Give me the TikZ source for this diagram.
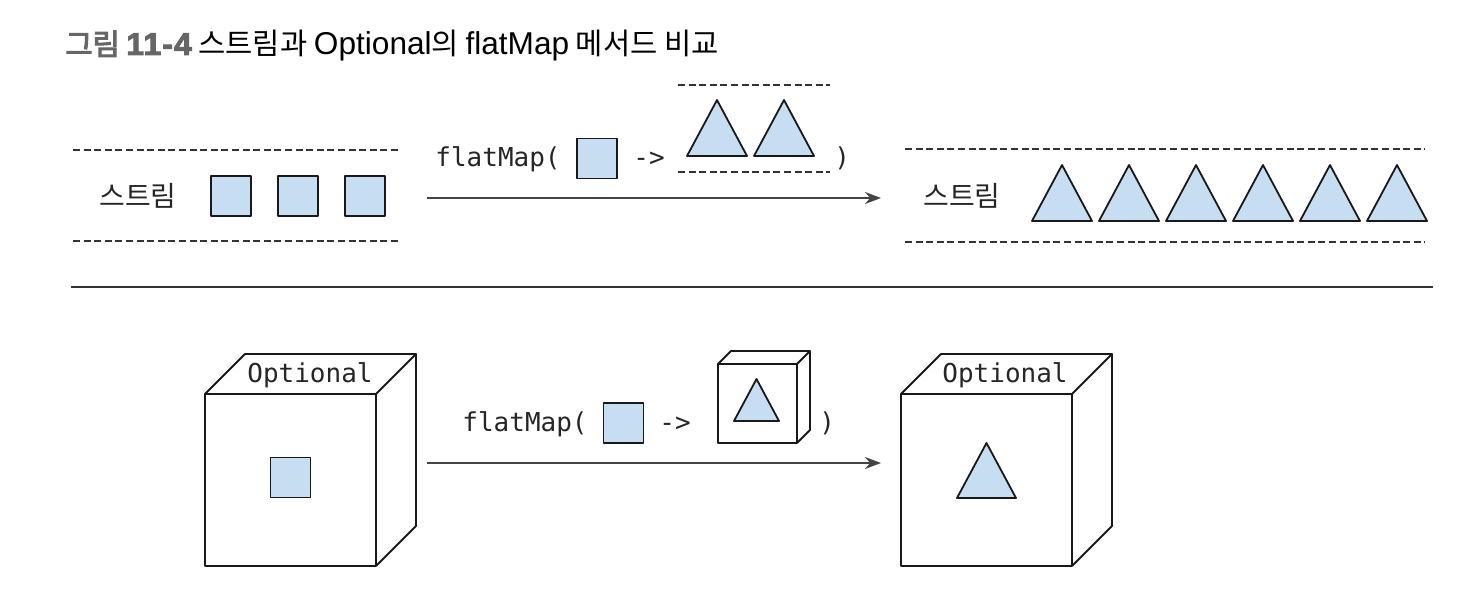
\documentclass[tikz,border=0pt]{standalone}
\usepackage{fontspec}
\setmainfont{Noto Sans CJK KR}
\newfontfamily\monofam{DejaVu Sans Mono}
\newfontfamily\krfam{Noto Sans CJK KR}
\newfontfamily\latfam{Liberation Sans}
\newfontfamily\latbfam{Liberation Sans}[LetterSpace=4]
\usetikzlibrary{arrows.meta}
\definecolor{fillblue}{HTML}{C6DDF2}
\definecolor{arrowgray}{HTML}{444444}
\definecolor{titlegray}{HTML}{666666}
\newcommand\mytri[4]{% cx, base y, width, height
  \path[bluefill] ({#1-#3/2},#2) -- ({#1},{#2-#4}) -- ({#1+#3/2},#2) -- cycle;}
\newcommand\mycube[5]{% x1,y1,x2,y2 of front face, depth
  \draw[shapeline] (#1,#2) rectangle (#3,#4);
  \draw[shapeline] (#1,#2) -- ({#1+#5},{#2-#5}) -- ({#3+#5},{#2-#5}) -- (#3,#2);
  \draw[shapeline] ({#3+#5},{#2-#5}) -- ({#3+#5},{#4-#5}) -- (#3,#4);}
\newcommand\lat[1]{{\latfam\fontsize{15.8pt}{17pt}\selectfont #1}}
\newcommand\latb[1]{{\latbfam\bfseries\fontsize{15.8pt}{17pt}\selectfont #1}}
\newcommand\heavy[1]{\special{pdf:literal direct 2 Tr 0.5 w}#1\special{pdf:literal direct 0 Tr}}
\begin{document}
\begin{tikzpicture}[x=0.5pt,y=-0.5pt,
  shapeline/.style={draw=black!90, line width=0.9pt, line join=round},
  bluefill/.style={shapeline, fill=fillblue},
  dashline/.style={draw=black!80, line width=0.75pt, dash pattern=on 3.5pt off 1.8pt},
  flow/.style={draw=arrowgray, line width=0.9pt, -{Stealth[length=8pt,width=6pt]}},
  code/.style={font=\monofam\fontsize{13pt}{15pt}\selectfont, inner sep=0pt, text=black!85},
  krlabel/.style={font=\krfam\fontsize{14pt}{16pt}\selectfont, inner sep=0pt, text=black!85},
  sq/.style={bluefill, minimum size=20pt, inner sep=0pt}
]
\useasboundingbox (0,0) rectangle (1468,614);
% title
\node[anchor=base west, inner sep=0pt, font=\krfam\fontsize{14.8pt}{16pt}\selectfont] (title) at (65,55)
  {{\color{titlegray}\heavy{그림 \latb{11-4}}} 스트림과 \lat{Optional}의 \lat{flatMap} 메서드 비교};
% ---------- top: stream ----------
\draw[dashline] (73,150) -- (400,150);
\draw[dashline] (73,241) -- (400,241);
\node[krlabel] (s1) at (138,196) {스트림};
\node[sq] (q1) at (231,196) {};
\node[sq] (q2) at (298,196) {};
\node[sq] (q3) at (365,196) {};
\node[code, anchor=base west] (fm1) at (435,167) {flatMap(};
\node[sq] (q4) at (597,158.5) {};
\node[code, anchor=base west] (ar1) at (633,167) {->};
\draw[dashline] (678,85) -- (830,85);
\draw[dashline] (678,172) -- (830,172);
\mytri{717}{156}{60}{56}
\mytri{784}{156}{60}{56}
\node[code, anchor=base west] (cp1) at (834,167) {)};
\coordinate (a1s) at (427,198);
\coordinate (a1e) at (881,198);
\draw[flow] (a1s) -- (a1e);
\draw[dashline] (905,149) -- (1425,149);
\draw[dashline] (905,242) -- (1425,242);
\node[krlabel] (s2) at (962,196) {스트림};
\foreach \k in {0,...,5} {\mytri{1062+67*\k}{221}{60}{56}}
% divider
\coordinate (dl) at (71,287);
\coordinate (dr) at (1433,287);
\draw[draw=black!80, line width=1pt] (dl) -- (dr);
% ---------- bottom: optional ----------
\mycube{205}{394}{376}{566}{40}
\node[code, anchor=base] (o1) at (310,383) {Optional};
\node[sq] (q5) at (290.5,477.5) {};
\node[code, anchor=base west] (fm2) at (462,432) {flatMap(};
\node[sq] (q6) at (623.5,423) {};
\node[code, anchor=base west] (ar2) at (659,432) {->};
\mycube{718}{364}{797}{443}{13}
\mytri{756.5}{421}{45}{42}
\node[code, anchor=base west] (cp2) at (819,432) {)};
\coordinate (a2s) at (427,463);
\coordinate (a2e) at (881,463);
\draw[flow] (a2s) -- (a2e);
\mycube{901}{394}{1072}{566}{40}
\node[code, anchor=base] (o2) at (1005,383) {Optional};
\mytri{986.5}{498}{59}{55}
\end{tikzpicture}
\end{document}
